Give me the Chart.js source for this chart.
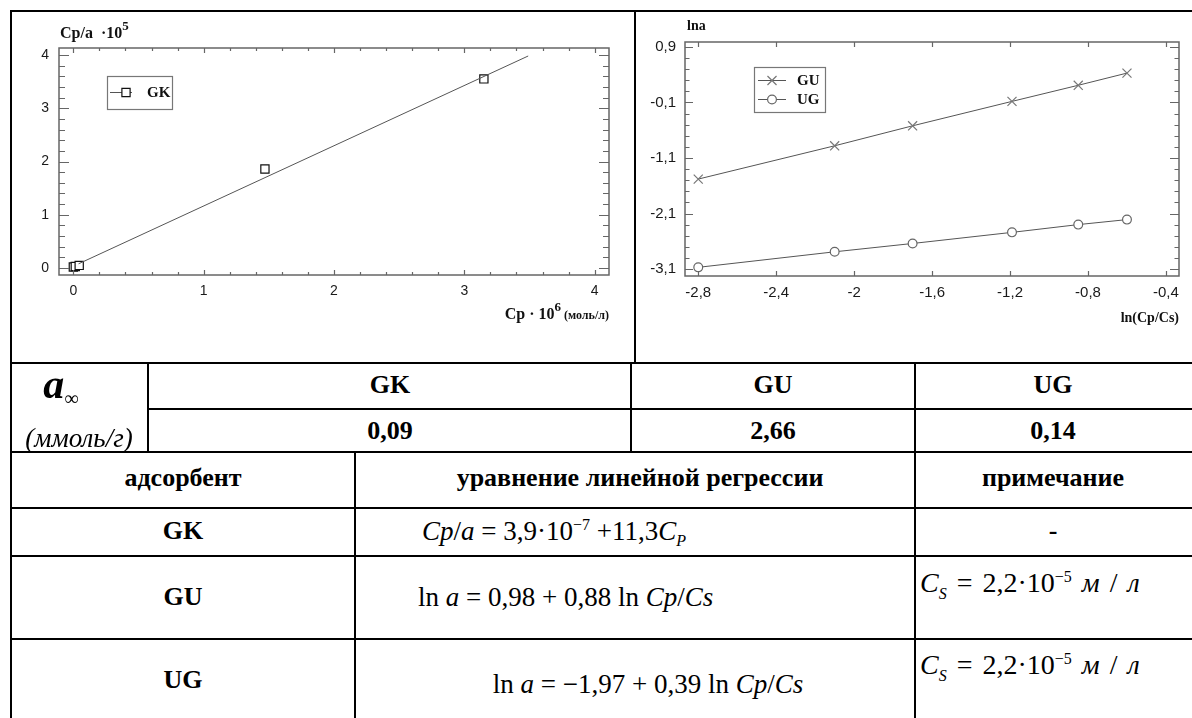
<!DOCTYPE html>
<html>
<head>
<meta charset="utf-8">
<script src="https://cdn.jsdelivr.net/npm/chart.js@4.4.1/dist/chart.umd.min.js"></script>
<style>
  body { margin: 0; background: #fff; width: 1192px; height: 718px; overflow: hidden; position: relative; font-family: "Liberation Serif", "Times New Roman", serif; color: #000; }
  .h { position: absolute; height: 2px; background: #000; }
  .v { position: absolute; width: 2px; background: #000; }
  .c { position: absolute; transform: translate(-50%, -50%); white-space: nowrap; }
  .l { position: absolute; transform: translateY(-50%); white-space: nowrap; }
  .b { font-weight: bold; font-size: 26px; }
  .eq { font-size: 27px; }
  .eq i { font-style: italic; }
  .note { font-size: 28px; word-spacing: 3px; }
  sup, sub { font-size: 16px; line-height: 0; }
  canvas { position: absolute; }
</style>
</head>
<body>
<canvas id="gk" width="622" height="350" style="left:12px;top:12px"></canvas>
<canvas id="ln" width="556" height="350" style="left:636px;top:12px"></canvas>

<!-- table lines -->
<div class="h" style="left:10px;top:10px;width:1182px"></div>
<div class="v" style="left:10px;top:10px;height:708px"></div>
<div class="v" style="left:634px;top:10px;height:353px"></div>
<div class="h" style="left:10px;top:362px;width:1182px"></div>
<div class="v" style="left:147px;top:362px;height:90px"></div>
<div class="v" style="left:630px;top:362px;height:90px"></div>
<div class="h" style="left:147px;top:408px;width:1045px"></div>
<div class="v" style="left:914px;top:362px;height:356px"></div>
<div class="h" style="left:10px;top:451px;width:1182px"></div>
<div class="v" style="left:354px;top:451px;height:267px"></div>
<div class="h" style="left:10px;top:507px;width:1182px"></div>
<div class="h" style="left:10px;top:555px;width:1182px"></div>
<div class="h" style="left:10px;top:638px;width:1182px"></div>

<!-- a-infinity block -->
<div class="c" style="left:61px;top:384px"><b><i style="font-size:42px">a</i></b><span style="font-size:20px;position:relative;top:7px">&#8734;</span></div>
<div class="c" style="left:79px;top:438px;font-size:27px"><i>(ммоль/г)</i></div>
<div class="c b" style="left:390px;top:385px">GK</div>
<div class="c b" style="left:390px;top:431px">0,09</div>
<div class="c b" style="left:773px;top:385px">GU</div>
<div class="c b" style="left:773px;top:431px">2,66</div>
<div class="c b" style="left:1053px;top:385px">UG</div>
<div class="c b" style="left:1053px;top:431px">0,14</div>

<!-- regression table -->
<div class="c b" style="left:183px;top:478px">адсорбент</div>
<div class="c b" style="left:640px;top:478px">уравнение линейной регрессии</div>
<div class="c b" style="left:1053px;top:478px">примечание</div>

<div class="c b" style="left:183px;top:531px">GK</div>
<div class="l eq" style="left:422px;top:531px"><i>Cp</i>/<i>a</i> = 3,9&#183;10<sup>&#8722;7</sup> +11,3<i>C</i><sub><i>P</i></sub></div>
<div class="c b" style="left:1053px;top:531px">-</div>

<div class="c b" style="left:183px;top:597px">GU</div>
<div class="l eq" style="left:418px;top:597px">ln <i>a</i> = 0,98 + 0,88 ln <i>Cp</i>/<i>Cs</i></div>
<div class="l eq note" style="left:920px;top:583px"><i>C</i><sub><i>S</i></sub> = 2,2&#183;10<sup>&#8722;5</sup> <i>м</i> / <i>л</i></div>

<div class="c b" style="left:183px;top:680px">UG</div>
<div class="c eq" style="left:648px;top:684px">ln <i>a</i> = &#8722;1,97 + 0,39 ln <i>Cp</i>/<i>Cs</i></div>
<div class="l eq note" style="left:920px;top:665px"><i>C</i><sub><i>S</i></sub> = 2,2&#183;10<sup>&#8722;5</sup> <i>м</i> / <i>л</i></div>

<script>
// GK: Cp/a * 1e5 against Cp * 1e6
const gkCp = [0.0, 0.015, 0.045, 1.47, 3.15];
const gkCpa = [0.02, 0.03, 0.05, 1.86, 3.55];
const gkFitCp = [0.04, 3.49];
const gkFitCpa = [0.08, 3.98];
const gkXTicks = [0, 1, 2, 3, 4];
const gkYTicks = [0, 1, 2, 3, 4];

// GU / UG: ln a against ln(Cp/Cs)
const lnCpCs = [-2.8, -2.1, -1.7, -1.19, -0.85, -0.6];
const guLna = [-1.48, -0.88, -0.52, -0.08, 0.21, 0.43];
const ugLna = [-3.07, -2.79, -2.64, -2.44, -2.30, -2.21];
const lnXTicks = [-2.8, -2.4, -2, -1.6, -1.2, -0.8, -0.4];
const lnYTicks = [0.9, -0.1, -1.1, -2.1, -3.1];

const pts = (xs, ys) => xs.map((x, i) => ({ x, y: ys[i] }));
const comma = v => String(Math.round(v * 10) / 10).replace('.', ',');
const SERIF = '"Liberation Serif", "Times New Roman", serif';
const SANS = '"Liberation Sans", Arial, sans-serif';

// draws text pieces [text, font, dy] left to right
function runs(ctx, parts, x, y, align) {
  let w = 0;
  parts.forEach(p => { ctx.font = p[1]; w += ctx.measureText(p[0]).width; });
  let cx = align === 'right' ? x - w : x;
  ctx.textAlign = 'left';
  ctx.textBaseline = 'alphabetic';
  parts.forEach(p => {
    ctx.font = p[1];
    ctx.fillText(p[0], cx, y + (p[2] || 0));
    cx += ctx.measureText(p[0]).width;
  });
}

function drawMarker(ctx, style, x, y, r) {
  ctx.beginPath();
  if (style === 'rect') {
    const s = Math.SQRT1_2 * r;
    ctx.fillStyle = '#fff';
    ctx.rect(x - s, y - s, 2 * s, 2 * s);
    ctx.fill();
  } else if (style === 'circle') {
    ctx.fillStyle = '#fff';
    ctx.arc(x, y, r, 0, Math.PI * 2);
    ctx.fill();
  } else {
    const d = Math.SQRT1_2 * r;
    ctx.moveTo(x - d, y - d); ctx.lineTo(x + d, y + d);
    ctx.moveTo(x - d, y + d); ctx.lineTo(x + d, y - d);
  }
  ctx.stroke();
}

// frame, inward ticks on all four sides, legend and axis titles
const framePlugin = {
  id: 'frame',
  afterDraw(chart, args, o) {
    const { ctx, chartArea: a, scales: { x, y } } = chart;
    ctx.save();
    ctx.strokeStyle = '#666';
    ctx.lineWidth = 1.5;
    ctx.strokeRect(a.left, a.top, a.right - a.left, a.bottom - a.top);

    ctx.lineWidth = 1.2;
    ctx.beginPath();
    const xt = (v, len) => {
      const p = Math.round(x.getPixelForValue(v)) + 0.5;
      ctx.moveTo(p, a.bottom); ctx.lineTo(p, a.bottom - len);
      ctx.moveTo(p, a.top); ctx.lineTo(p, a.top + len);
    };
    const yt = (v, lenL, lenR) => {
      const p = Math.round(y.getPixelForValue(v)) + 0.5;
      ctx.moveTo(a.left, p); ctx.lineTo(a.left + lenL, p);
      ctx.moveTo(a.right, p); ctx.lineTo(a.right - lenR, p);
    };
    o.xMajor.forEach(v => xt(v, o.xLen[0]));
    if (o.xStep) {
      for (let v = o.xMajor[0]; v < o.xMajor[o.xMajor.length - 1]; v += o.xStep) xt(v, o.xLen[1]);
    }
    o.yMajor.forEach(v => yt(v, o.yLen[0], o.yLen[2]));
    if (o.yStep) {
      const lo = Math.min(...o.yMajor), hi = Math.max(...o.yMajor);
      for (let v = lo; v < hi - 1e-6; v += o.yStep) yt(v, o.yLen[1], o.yLen[3]);
    }
    ctx.stroke();

    // legend
    const L = o.legend;
    ctx.strokeStyle = '#777';
    ctx.lineWidth = 1.2;
    ctx.strokeRect(L.box[0] + 0.5, L.box[1] + 0.5, L.box[2], L.box[3]);
    L.items.forEach((it, i) => {
      const ly = L.y0 + i * L.dy;
      ctx.strokeStyle = '#555';
      ctx.lineWidth = 1;
      ctx.beginPath();
      ctx.moveTo(L.x0, ly + 0.5); ctx.lineTo(L.x1, ly + 0.5);
      ctx.stroke();
      ctx.strokeStyle = it.color;
      ctx.lineWidth = 1.2;
      drawMarker(ctx, it.style, L.mx, ly + 0.5, it.r);
      ctx.fillStyle = '#111';
      runs(ctx, [[it.text, 'bold 15px ' + SERIF]], L.tx, ly + 5);
    });

    // axis titles
    ctx.fillStyle = '#111';
    runs(ctx, o.yTitle.parts, o.yTitle.x, o.yTitle.y, 'left');
    runs(ctx, o.xTitle.parts, o.xTitle.x, o.xTitle.y, 'right');
    ctx.restore();
  }
};

function axis(min, max, ticks, size, pad, fit, dim) {
  return {
    type: 'linear', min, max,
    afterBuildTicks: s => { s.ticks = ticks.map(v => ({ value: v })); },
    afterFit: s => { s[dim] = fit; },
    grid: { display: false, drawTicks: false },
    border: { display: false },
    ticks: { padding: pad, color: '#1a1a1a', font: { family: SANS, size }, callback: v => comma(v) }
  };
}

new Chart(document.getElementById('gk'), {
  type: 'scatter',
  data: {
    datasets: [
      { data: pts(gkFitCp, gkFitCpa), showLine: true, borderColor: '#555', borderWidth: 1, pointRadius: 0 },
      { data: pts(gkCp, gkCpa), pointStyle: 'rect', pointRadius: 5.8, borderColor: '#111', backgroundColor: '#fff', borderWidth: 1.2 }
    ]
  },
  options: {
    responsive: false,
    animation: false,
    layout: { padding: { top: 36, right: 25, left: 0, bottom: 0 } },
    plugins: {
      legend: { display: false },
      tooltip: { enabled: false },
      frame: {
        xMajor: gkXTicks, xStep: 0.2, xLen: [5, 3],
        yMajor: gkYTicks, yStep: 0.2, yLen: [10, 6, 10, 6],
        legend: {
          box: [95, 64, 65, 33], x0: 98, x1: 120, mx: 114, y0: 80, dy: 0, tx: 135,
          items: [{ text: 'GK', style: 'rect', color: '#111', r: 5.8 }]
        },
        yTitle: { x: 48, y: 26, parts: [['Cp/a  \u00b710', 'bold 16px ' + SERIF], ['5', 'bold 13px ' + SERIF, -8]] },
        xTitle: { x: 597, y: 307, parts: [['Cp \u00b7 10', 'bold 16px ' + SERIF], ['6', 'bold 13px ' + SERIF, -8], [' (моль/л)', 'bold 12px ' + SERIF]] }
      }
    },
    scales: {
      x: axis(-0.11, 4.11, gkXTicks, 14, 8, 87, 'height'),
      y: axis(-0.13, 4.13, gkYTicks, 14, 10, 47, 'width')
    }
  },
  plugins: [framePlugin]
});

new Chart(document.getElementById('ln'), {
  type: 'scatter',
  data: {
    datasets: [
      { label: 'GU', data: pts(lnCpCs, guLna), showLine: true, borderColor: '#555', borderWidth: 1, pointStyle: 'crossRot', pointRadius: 6.4, pointBorderColor: '#777', pointBorderWidth: 1.2 },
      { label: 'UG', data: pts(lnCpCs, ugLna), showLine: true, borderColor: '#555', borderWidth: 1, pointStyle: 'circle', pointRadius: 4.4, pointBorderColor: '#666', pointBackgroundColor: '#fff', pointBorderWidth: 1.2 }
    ]
  },
  options: {
    responsive: false,
    animation: false,
    layout: { padding: { top: 30, right: 13, left: 0, bottom: 0 } },
    plugins: {
      legend: { display: false },
      tooltip: { enabled: false },
      frame: {
        xMajor: lnXTicks, xStep: 0, xLen: [5, 0],
        yMajor: lnYTicks, yStep: 0.2, yLen: [8, 4.5, 9, 4.5],
        legend: {
          box: [118, 55, 71, 45], x0: 122, x1: 150, mx: 136, y0: 68, dy: 19, tx: 161,
          items: [
            { text: 'GU', style: 'crossRot', color: '#777', r: 6.4 },
            { text: 'UG', style: 'circle', color: '#666', r: 4.4 }
          ]
        },
        yTitle: { x: 51, y: 18, parts: [['lna', 'bold 14px ' + SERIF]] },
        xTitle: { x: 543, y: 310, parts: [['ln(Cp/Cs)', 'bold 14px ' + SERIF]] }
      }
    },
    scales: {
      x: axis(-2.868, -0.333, lnXTicks, 15, 8, 86, 'height'),
      y: axis(-3.226, 0.99, lnYTicks, 15, 9, 49, 'width')
    }
  },
  plugins: [framePlugin]
});
</script>
</body>
</html>
